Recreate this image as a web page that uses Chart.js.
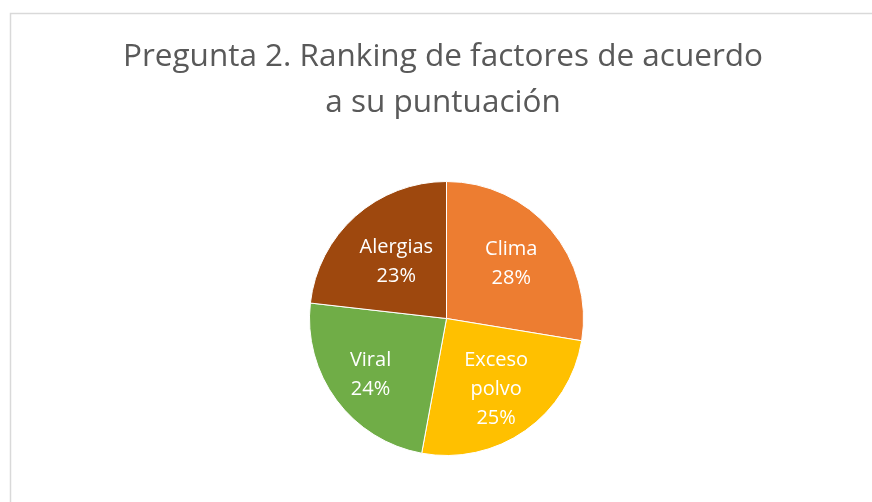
<!DOCTYPE html>
<html>
<head>
<meta charset="utf-8">
<script src="https://cdn.jsdelivr.net/npm/chart.js@4.4.1/dist/chart.umd.min.js"></script>
<style>
  html, body { margin: 0; padding: 0; background: #fff; }
  #wrap { width: 872px; height: 502px; position: relative; }
</style>
</head>
<body>
<div id="wrap"><canvas id="pieRanking" width="872" height="502"></canvas></div>
<script>
const titleLines = ["Pregunta 2. Ranking de factores de acuerdo", "a su puntuación"];
const categories = ["Clima", "Exceso polvo", "Viral", "Alergias"];
const labelLines = [["Clima"], ["Exceso", "polvo"], ["Viral"], ["Alergias"]];
const scores = [27.6, 25.3, 23.9, 23.2];
const sliceColors = ["#ED7D31", "#FFC000", "#70AD47", "#9E480E"];

const fontFamily = "'Open Sans', 'Noto Sans', sans-serif";
// how far out (fraction of radius) each label sits, like excel's best fit
const labelRadius = [0.62, 0.63, 0.69, 0.55];

// frame + title drawn by hand so they sit where the original has them
const framePlugin = {
  id: "frame",
  beforeDraw(chart) {
    const c = chart.ctx;
    c.save();
    c.strokeStyle = "#d9d9d9";
    c.lineWidth = 1.5;
    c.strokeRect(10.5, 13.5, 900, 600);
    c.fillStyle = "#595959";
    c.font = "31.5px " + fontFamily;
    c.textAlign = "center";
    c.textBaseline = "alphabetic";
    c.fillText(titleLines[0], 443, 66);
    c.fillText(titleLines[1], 443, 112);
    c.restore();
  }
};

const sliceLabels = {
  id: "sliceLabels",
  afterDatasetsDraw(chart) {
    const c = chart.ctx;
    const meta = chart.getDatasetMeta(0);
    const data = chart.data.datasets[0].data;
    const total = data.reduce((a, b) => a + b, 0);
    c.save();
    c.fillStyle = "#fff";
    c.font = "20px " + fontFamily;
    c.textAlign = "center";
    c.textBaseline = "middle";
    meta.data.forEach((arc, i) => {
      const p = arc.getProps(["x", "y", "startAngle", "endAngle", "outerRadius"], true);
      const mid = (p.startAngle + p.endAngle) / 2;
      const r = p.outerRadius * labelRadius[i];
      const cx = p.x + Math.cos(mid) * r;
      const cy = p.y + Math.sin(mid) * r;
      const lines = labelLines[i].concat([Math.round(data[i] / total * 100) + "%"]);
      const lh = 29;
      const y0 = cy - (lines.length - 1) * lh / 2;
      lines.forEach((t, j) => c.fillText(t, cx, y0 + j * lh));
    });
    c.restore();
  }
};

const ctx = document.getElementById("pieRanking");

new Chart(ctx, {
  type: "pie",
  data: {
    labels: categories,
    datasets: [
      {
        data: scores,
        backgroundColor: sliceColors,
        borderColor: "#ffffff",
        borderWidth: 1
      }
    ]
  },
  options: {
    responsive: false,
    animation: false,
    devicePixelRatio: 1,
    layout: {
      padding: { left: 21, right: 0, top: 181, bottom: 46 }
    },
    plugins: {
      legend: { display: false },
      title: { display: false },
      tooltip: { enabled: false }
    }
  },
  plugins: [framePlugin, sliceLabels]
});
</script>
</body>
</html>
